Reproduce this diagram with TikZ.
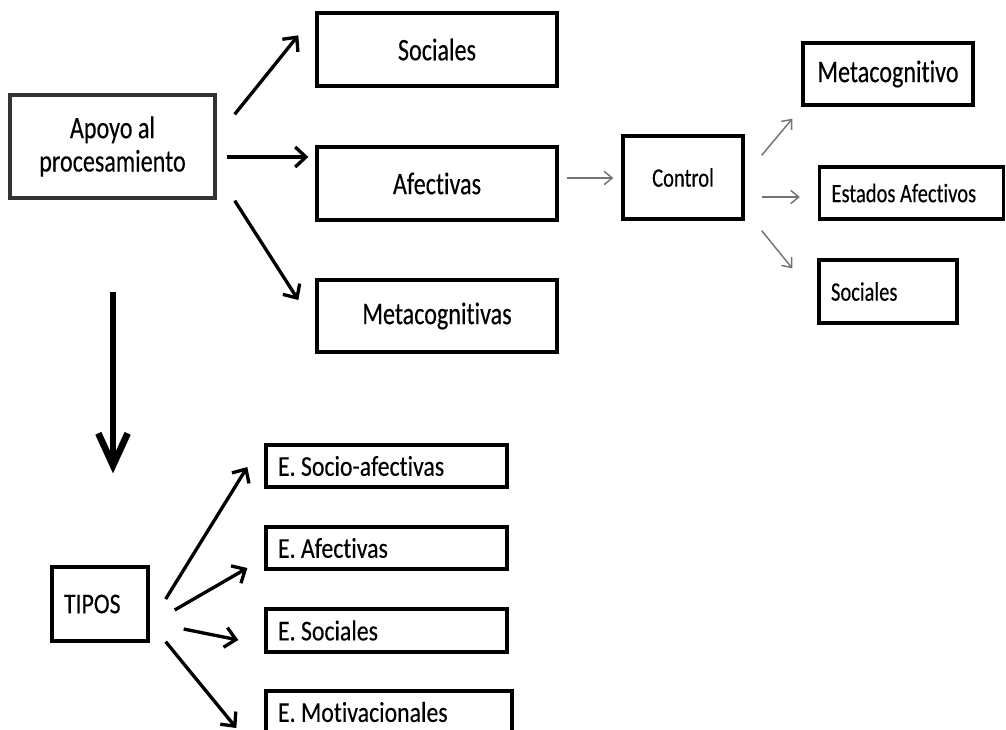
\documentclass[tikz,border=0pt]{standalone}
\usepackage{fontspec}
\setmainfont{Carlito}[FakeStretch=0.77,FakeBold=0.25,Ligatures=NoCommon]
\newfontfamily\lowfamily{Carlito}[FakeStretch=0.83,FakeBold=0.25,Ligatures=NoCommon]
\usetikzlibrary{arrows.meta}
\begin{document}
\begin{tikzpicture}[x=0.75pt,y=-0.75pt,
  box/.style={draw=black,line width=2.5pt,inner sep=0pt,
    minimum width=#1,align=flush center},
  box/.default=240,
  lbox/.style={draw=black,line width=2.5pt,inner sep=0pt,inner xsep=9pt,
    text width=#1,align=flush left},
  big/.style={font=\fontsize{23.5}{25}\selectfont},
  small/.style={font=\fontsize{20}{22}\selectfont},
  low/.style={font=\lowfamily\fontsize{21.5}{24}\selectfont},
  arr/.style={line width=2.5pt,-{Straight Barb[length=8pt,width=15pt]}},
  garr/.style={draw=black!55,line width=1.1pt,-{Straight Barb[length=6pt,width=10pt]}},
  bigarr/.style={line width=5pt,-{Straight Barb[length=24pt,width=22pt]}}
]
\useasboundingbox (0,0) rectangle (1006,729);
\clip (0,0) rectangle (1006,729);

% upper branch
\node[box=153.75pt,minimum height=77.25pt,big,draw=black!80] (apoyo) at (112.5,146.5)
  {Apoyo al\\procesamiento};
\node[box=180pt,minimum height=54.75pt,big] (soc) at (437,49.5) {Sociales};
\node[box=180pt,minimum height=54.75pt,big] (afe) at (437,183.5) {Afectivas};
\node[box=180pt,minimum height=54pt,big] (meta) at (437,316) {Metacognitivas};

% control and its outcomes
\node[box=90pt,minimum height=62.25pt,small] (control) at (683,177.5) {Control};
\node[box=127.5pt,minimum height=46.5pt,big] (metaco) at (888,74) {Metacognitivo};
\node[lbox=120pt,minimum height=39pt,small] (estados) at (911.5,193) {Estados Afectivos};
\node[lbox=85.5pt,minimum height=47.25pt,small] (socr) at (888,291.5) {Sociales};

% types
\node[lbox=54pt,minimum height=55.5pt,low] (tipos) at (100,604) {TIPOS};
\node[lbox=162.75pt,minimum height=31.5pt,low] (es1) at (386.5,466) {E. Socio-afectivas};
\node[lbox=162.75pt,minimum height=31.5pt,low] (es2) at (386.5,548) {E. Afectivas};
\node[lbox=162.75pt,minimum height=32.25pt,low] (es3) at (386.5,630.5) {E. Sociales};
\node[lbox=166.5pt,minimum height=31.5pt,low] (es4) at (389,712) {E. Motivacionales};

% connectors
\draw[arr] ([shift={(18,21)}]apoyo.north east) -- ([shift={(-17,24)}]soc.north west);
\draw[arr] ([shift={(10,10.5)}]apoyo.east) -- ([shift={(-7,-26.5)}]afe.west);
\draw[arr] ([shift={(18,1)}]apoyo.south east) -- ([shift={(-17,-16)}]meta.west);

\draw[garr] ([shift={(8,-5.5)}]afe.east) -- ([shift={(-8,0.5)}]control.west);
\draw[garr] ([shift={(17,21)}]control.north east) -- ([shift={(-9,12)}]metaco.south west);
\draw[garr] ([shift={(17,19.5)}]control.east) -- ([shift={(-18,4)}]estados.west);
\draw[garr] ([shift={(17,10)}]control.south east) -- ([shift={(-25,10)}]socr.north west);

\draw[bigarr] ([shift={(0.5,92)}]apoyo.south) -- ([shift={(13,-92)}]tipos.north);

\draw[arr] ([shift={(16,-5)}]tipos.east) -- ([shift={(-17,1)}]es1.west);
\draw[arr] ([shift={(25,6)}]tipos.east) -- ([shift={(-17,20)}]es2.west);
\draw[arr] ([shift={(34,25)}]tipos.east) -- ([shift={(-26,9.5)}]es3.west);
\draw[arr] ([shift={(16,-1)}]tipos.south east) -- ([shift={(-28,16)}]es4.west);
\end{tikzpicture}
\end{document}
